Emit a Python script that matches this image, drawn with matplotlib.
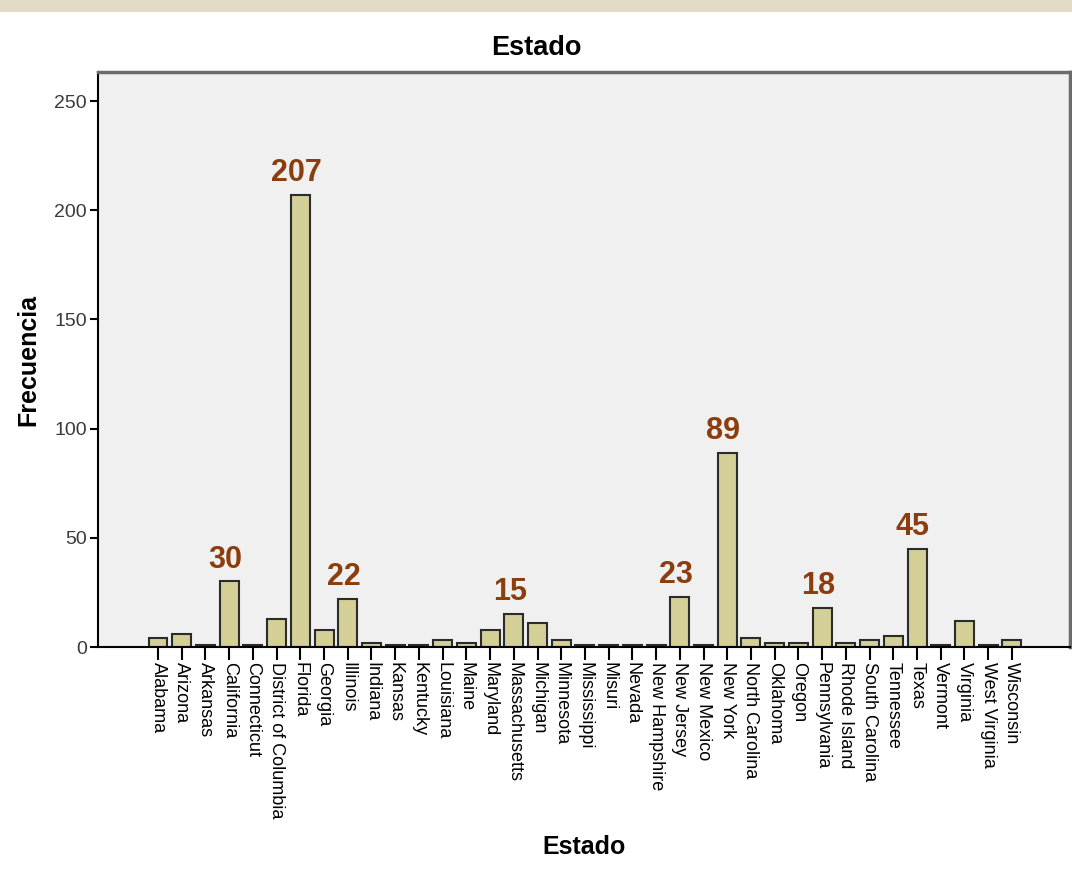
import matplotlib
matplotlib.use('Agg')
import matplotlib.pyplot as plt
import numpy as np

states = ['Alabama', 'Arizona', 'Arkansas', 'California', 'Connecticut',
          'District of Columbia', 'Florida', 'Georgia', 'Illinois', 'Indiana',
          'Kansas', 'Kentucky', 'Louisiana', 'Maine', 'Maryland',
          'Massachusetts', 'Michigan', 'Minnesota', 'Mississippi', 'Misuri',
          'Nevada', 'New Hampshire', 'New Jersey', 'New Mexico', 'New York',
          'North Carolina', 'Oklahoma', 'Oregon', 'Pennsylvania', 'Rhode Island',
          'South Carolina', 'Tennessee', 'Texas', 'Vermont', 'Virginia',
          'West Virginia', 'Wisconsin']
counts = [4, 6, 1, 30, 1, 13, 207, 8, 22, 2,
          1, 1, 3, 2, 8, 15, 11, 3, 1, 1,
          1, 1, 23, 1, 89, 4, 2, 2, 18, 2,
          3, 5, 45, 1, 12, 1, 3]
highlighted = ['California', 'Florida', 'Illinois', 'Massachusetts',
               'New Jersey', 'New York', 'Pennsylvania', 'Texas']

plt.rcParams['font.family'] = ['Liberation Sans', 'DejaVu Sans']

fig = plt.figure(figsize=(10.72, 8.89), dpi=100)
# beige strip on top of the screenshot
fig.patches.append(plt.Rectangle((0, 1 - 12 / 889), 1, 12 / 889, transform=fig.transFigure,
                                 facecolor='#e4dbc6', edgecolor='none'))
ax = fig.add_axes([98 / 1072, 1 - 647 / 889, (1070 - 98) / 1072, (647 - 72) / 889])
ax.set_facecolor('#f0f0f0')

x = np.arange(len(states))
ax.bar(x, counts, width=0.8, color='#d3cf97', edgecolor='#2b2b2b', linewidth=1.5, zorder=2)

for xi, name, c in zip(x, states, counts):
    if name in highlighted:
        ax.annotate(str(c), (xi, c), xytext=(-3, 5), textcoords='offset points',
                    ha='center', va='bottom', fontsize=22, fontweight='bold',
                    color='#8b3d0e')

ax.set_xlim(-2.53, len(states) - 1 + 2.45)
ax.set_ylim(0, 263.3)
ax.set_yticks([0, 50, 100, 150, 200, 250])
ax.set_xticks(x)
ax.set_xticklabels(states, rotation=270, fontsize=13)

fig.text(0.5, 1 - 48 / 889, 'Estado', fontsize=19.5, fontweight='bold', ha='center', va='center')
ax.set_xlabel('Estado', fontsize=18, fontweight='bold', labelpad=12)
ax.set_ylabel('Frecuencia', fontsize=18, fontweight='bold', labelpad=10)

ax.spines['left'].set_color('black')
ax.spines['bottom'].set_color('black')
ax.spines['left'].set_linewidth(1.5)
ax.spines['bottom'].set_linewidth(1.5)
ax.spines['top'].set_color('#6b6b6b')
ax.spines['right'].set_color('#6b6b6b')
ax.spines['top'].set_linewidth(2.5)
ax.spines['right'].set_linewidth(2.5)
ax.tick_params(axis='y', direction='out', length=6, width=1.5, labelsize=14,
               labelcolor='#3a3a3a', pad=2)
ax.tick_params(axis='x', direction='out', length=9, width=1.5, pad=2)

plt.savefig('out.png', dpi=100)
plt.close(fig)
